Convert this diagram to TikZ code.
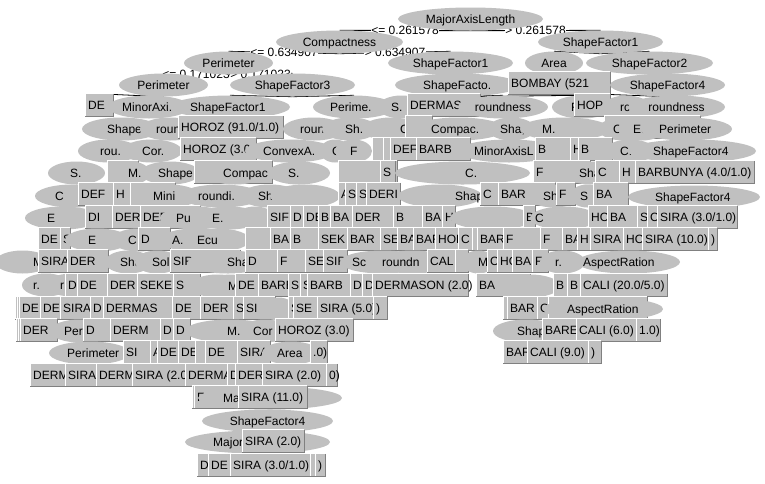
\documentclass[tikz,border=0pt]{standalone}
\usepackage{fontspec}
\setmainfont{Liberation Sans}
\usetikzlibrary{shapes.geometric}
\definecolor{ng}{RGB}{192,192,192}
\definecolor{nd}{RGB}{128,128,128}
\pgfdeclarelayer{back}
\pgfdeclarelayer{bg}
\pgfsetlayers{back,bg,main}
\newcounter{nd}
\tikzset{
  boxnode/.style={rectangle, fill=ng, draw=none, inner sep=0pt, minimum height=22pt},
  elnode/.style={ellipse, fill=ng, draw=none, inner sep=0pt, minimum height=23pt},
  hiline/.style={white, line width=1pt},
  loline/.style={nd, line width=1pt},
  txt/.style={inner sep=0pt, font=\fontsize{12}{14}\selectfont, text=black},
  conn/.style={black, line width=0.8pt},
  lbl/.style={fill=white, inner sep=0.5pt, font=\fontsize{12}{14}\selectfont}
}
\newcommand\nbx[4]{%
  \stepcounter{nd}\edef\nm{n\arabic{nd}}\edef\tm{t\arabic{nd}}%
  \node[boxnode, minimum width={((#2)-(#1))*1pt}, anchor=west] (\nm) at (#1,#3) {};
  \draw[hiline] (\nm.south west) |- (\nm.north east);
  \draw[loline] (\nm.north east) |- (\nm.south west);
  \node[txt, anchor=base west] (\tm) at (#1+3,#3+4.3) {#4};}
\newcommand\nel[5]{%
  \stepcounter{nd}\edef\nm{n\arabic{nd}}\edef\tm{t\arabic{nd}}%
  \pgfmathsetmacro\cx{((#1)+(#2))/2}%
  \node[elnode, minimum width={((#2)-(#1))*1pt}] (\nm) at (\cx,#3) {};
  \node[txt, anchor=base west] (\tm) at (#4,#3+4.3) {#5};}
\newcommand\nelc[4]{%
  \stepcounter{nd}\edef\nm{n\arabic{nd}}\edef\tm{t\arabic{nd}}%
  \pgfmathsetmacro\cx{((#1)+(#2))/2}%
  \node[elnode, minimum width={((#2)-(#1))*1pt}] (\nm) at (\cx,#3) {};
  \node[txt, anchor=base] (\tm) at (\cx,#3+4.3) {#4};}
\begin{document}
\begin{tikzpicture}[x=1pt,y=-1pt]
\begin{pgfonlayer}{back}
\fill[white] (0,0) rectangle (765,483);
\end{pgfonlayer}
\useasboundingbox (0,0) rectangle (765,483);
% R1
\nelc{398}{543}{19}{MajorAxisLength}
% R2
\nelc{276}{403}{42}{Compactness}
\nelc{538}{663}{42}{ShapeFactor1}
% R3
\nelc{184}{273}{63}{Perimeter}
\nelc{388}{513}{63}{ShapeFactor1}
\nelc{525}{583}{63}{Area}
\nelc{586}{713}{63}{ShapeFactor2}
% R4
\nelc{119}{208}{85}{Perimeter}
\nelc{230}{355}{85}{ShapeFactor3}
\nel{395}{520}{85}{423}{ShapeFacto.}
\nbx{508}{610}{83}{BOMBAY (521}
\nelc{610}{725}{85}{ShapeFactor4}
% R5
\nbx{85}{113}{105}{DE}
\nel{108}{190}{107}{122}{MinorAxi.}
\nel{170}{290}{107}{190}{ShapeFactor1}
\nel{313}{395}{107}{330}{Perime.}
\nel{378}{425}{107}{391}{S.}
\nbx{407}{480}{105}{DERMAS}
\nelc{458}{548}{107}{roundness}
\nel{552}{612}{107}{571}{F}
\nbx{574}{610}{105}{HOP}
\nel{603}{650}{107}{620}{rc}
\nelc{628}{725}{107}{roundness}
% R6
\nel{82}{160}{129}{107}{Shape}
\nel{140}{200}{129}{156}{roun}
\nbx{178}{283}{127}{HOROZ (91.0/1.0)}
\nel{283}{345}{129}{300}{roun.}
\nel{322}{378}{129}{345}{Sh.}
\nel{362}{420}{129}{400}{C}
\nbx{405}{432}{127}{}
\nel{412}{505}{129}{431}{Compac.}
\nel{488}{535}{129}{500}{Sha,}
\nel{520}{610}{129}{542}{M.}
\nbx{604}{700}{127}{}
\nel{598}{650}{129}{613}{C}
\nel{618}{665}{129}{633}{Ec}
\nel{640}{732}{129}{659}{Perimeter}
% R7
\nel{78}{140}{151}{100}{rou.}
\nel{122}{182}{151}{142}{Cor.}
\nbx{180}{256}{149}{HOROZ (3.0}
\nel{245}{335}{151}{263}{ConvexA.}
\nel{320}{350}{151}{332}{C}
\nel{335}{372}{151}{350}{F}
\nbx{372}{383}{149}{}
\nbx{383}{390}{149}{}
\nbx{390}{416}{149}{DEF}
\nbx{416}{470}{149}{BARB}
\nel{458}{560}{151}{474}{MinorAxisL}
\nbx{535}{570}{149}{B}
\nbx{570}{578}{149}{H}
\nbx{578}{612}{149}{B}
\nel{605}{655}{151}{620}{C.}
\nel{628}{756}{151}{653}{ShapeFactor4}
% R8
\nel{48}{105}{173}{70}{S.}
\nbx{107}{138}{172}{}
\nel{112}{150}{173}{128}{M.}
\nel{140}{200}{173}{158}{Shape}
\nbx{194}{272}{172}{}
\nel{205}{265}{173}{223}{Compac}
\nel{268}{330}{173}{288}{S.}
\nbx{338}{397}{172}{}
\nbx{380}{395}{172}{S}
\nel{395}{530}{173}{465}{C.}
\nbx{533}{590}{172}{F}
\nel{565}{615}{173}{579}{Sha}
\nbx{595}{619}{172}{C}
\nbx{619}{635}{172}{H}
\nbx{635}{754}{172}{BARBUNYA (4.0/1.0)}
% R9
\nel{35}{110}{196}{55}{C}
\nbx{78}{113}{194}{DEF}
\nbx{113}{130}{194}{H}
\nbx{130}{175}{194}{}
\nel{138}{200}{196}{153}{Mini}
\nel{180}{262}{196}{198}{roundi.}
\nel{240}{300}{196}{258}{Sh.}
\nel{270}{340}{196}{300}{}
\nbx{338}{345}{194}{A}
\nbx{345}{356}{194}{S}
\nbx{356}{366}{194}{SI}
\nbx{366}{400}{194}{DERI}
\nel{398}{482}{196}{455}{Shap}
\nbx{480}{498}{194}{C}
\nbx{498}{555}{194}{BAR}
\nel{528}{580}{196}{543}{Sh}
\nbx{556}{575}{194}{F}
\nel{570}{605}{196}{580}{S}
\nbx{593}{628}{194}{BA}
\nel{628}{760}{197}{655}{ShapeFactor4}
% R10
\nel{25}{100}{218}{47}{E}
\nbx{85}{112}{217}{DI}
\nbx{112}{140}{217}{DER}
\nbx{140}{200}{217}{DEF}
\nel{160}{230}{218}{176}{Pu}
\nel{195}{262}{218}{212}{E.}
\nel{235}{275}{218}{255}{}
\nbx{267}{290}{217}{SIF}
\nbx{290}{303}{217}{D}
\nbx{303}{318}{217}{DE}
\nbx{318}{330}{217}{B}
\nbx{330}{352}{217}{BA}
\nbx{352}{393}{217}{DER}
\nbx{393}{422}{217}{B}
\nbx{422}{442}{217}{BA}
\nbx{442}{455}{217}{H}
\nel{450}{535}{218}{480}{}
\nbx{523}{535}{217}{B}
\nel{530}{598}{218}{535}{C}
\nbx{588}{607}{217}{HO}
\nbx{607}{637}{217}{BA}
\nbx{637}{647}{217}{S}
\nbx{647}{657}{217}{C}
\nbx{657}{737}{217}{SIRA (3.0/1.0)}
% R11
\nbx{38}{60}{239}{DE}
\nbx{60}{70}{239}{S}
\nel{65}{130}{240}{88}{E}
\nel{112}{165}{240}{128}{C}
\nbx{138}{170}{239}{D}
\nel{160}{230}{240}{172}{A.}
\nel{185}{250}{240}{197}{Ecu}
\nbx{245}{270}{239}{}
\nbx{270}{290}{239}{BA}
\nbx{290}{318}{239}{B}
\nbx{318}{347}{239}{SEK}
\nbx{347}{380}{239}{BAR}
\nbx{380}{397}{239}{SE}
\nbx{397}{413}{239}{BA}
\nbx{413}{435}{239}{BAR}
\nbx{435}{458}{239}{HOR}
\nbx{458}{472}{239}{C}
\nbx{472}{477}{239}{}
\nbx{477}{503}{239}{BAR}
\nbx{503}{540}{239}{F}
\nel{515}{560}{240}{530}{}
\nbx{540}{562}{239}{F}
\nbx{562}{577}{239}{BA}
\nbx{577}{590}{239}{H}
\nbx{590}{623}{239}{SIRA}
\nbx{623}{642}{239}{HO}
\nbx{642}{708}{239}{SIRA (10.0)}
\nbx{708}{717}{239}{)}
% R12
\nel{-5}{50}{262}{33}{M}
\nbx{38}{67}{261}{SIRA}
\nbx{67}{108}{261}{DER}
\nel{105}{152}{262}{120}{Sha}
\nel{135}{180}{262}{152}{Sol}
\nbx{170}{240}{261}{SIR}
\nel{188}{268}{262}{227}{Sha}
\nbx{245}{277}{261}{D}
\nbx{277}{305}{261}{F}
\nbx{305}{323}{261}{SE}
\nbx{323}{347}{261}{SIR}
\nel{340}{425}{262}{352}{Sc}
\nel{375}{450}{262}{382}{roundn}
\nbx{427}{455}{261}{CAL}
\nbx{455}{468}{261}{}
\nel{462}{495}{262}{478}{M}
\nbx{487}{497}{261}{C}
\nbx{497}{512}{261}{HO}
\nbx{512}{532}{261}{BAR}
\nbx{532}{548}{261}{F}
\nel{540}{585}{262}{555}{r.}
\nel{577}{680}{262}{583}{AspectRation}
% R13
\nel{22}{70}{285}{33}{r.}
\nel{45}{100}{285}{60}{r}
\nbx{65}{77}{285}{D}
\nbx{77}{107}{285}{DE}
\nbx{107}{137}{285}{DER}
\nbx{137}{173}{285}{SEKE}
\nbx{173}{200}{285}{S}
\nel{190}{245}{286}{210}{}
\nel{210}{250}{286}{228}{M}
\nbx{235}{258}{285}{DE}
\nbx{258}{288}{285}{BARE}
\nbx{288}{300}{285}{SI}
\nbx{300}{307}{285}{S}
\nbx{307}{350}{285}{BARB}
\nbx{350}{362}{285}{D}
\nbx{362}{372}{285}{D}
\nbx{372}{468}{285}{DERMASON (2.0)}
\nbx{476}{530}{285}{BA}
\nel{500}{560}{286}{510}{}
\nbx{553}{567}{285}{B}
\nbx{567}{580}{285}{B}
\nbx{580}{667}{285}{CALI (20.0/5.0)}
% R14
\nbx{15}{17}{308}{}
\nbx{17}{19}{308}{}
\nbx{19}{40}{308}{DE}
\nbx{40}{60}{308}{DE}
\nbx{60}{90}{308}{SIRA}
\nbx{90}{103}{308}{D}
\nbx{103}{172}{308}{DERMAS}
\nbx{172}{200}{308}{DE}
\nbx{200}{233}{308}{DER}
\nbx{233}{243}{308}{S}
\nbx{243}{275}{308}{SI}
\nel{262}{295}{309}{280}{}
\nbx{288}{293}{308}{S}
\nbx{293}{317}{308}{SE}
\nbx{317}{373}{308}{SIRA (5.0)}
\nbx{373}{387}{308}{)}
\nbx{503}{507}{308}{}
\nbx{507}{537}{308}{BAR}
\nbx{537}{548}{308}{C}
\nbx{548}{647}{308}{}
\nel{543}{663}{309}{567}{AspectRation}
% R15
\nbx{16}{18}{330}{}
\nbx{18}{20}{330}{}
\nbx{20}{57}{330}{DER}
\nel{50}{110}{331}{64}{Per}
\nbx{83}{110}{330}{D}
\nbx{110}{160}{330}{DERM}
\nbx{160}{173}{330}{D}
\nbx{173}{190}{330}{D}
\nel{185}{275}{331}{227}{M.}
\nel{240}{290}{331}{253}{Cor}
\nbx{275}{353}{330}{HOROZ (3.0)}
\nel{493}{560}{331}{517}{Shap}
\nbx{542}{576}{330}{BARE}
\nbx{576}{636}{330}{CALI (6.0)}
\nbx{636}{660}{330}{1.0)}
% R16
\nel{49}{130}{353}{67}{Perimeter}
\nbx{123}{150}{352}{SI}
\nbx{150}{157}{352}{A}
\nbx{157}{178}{352}{DE}
\nbx{178}{195}{352}{DE}
\nbx{195}{205}{352}{}
\nbx{205}{237}{352}{DE}
\nbx{237}{270}{352}{SIRA}
\nel{262}{320}{353}{277}{Area}
\nbx{310}{327}{352}{.0)}
\nbx{503}{527}{352}{BAR}
\nbx{527}{588}{352}{CALI (9.0)}
\nbx{588}{601}{352}{)}
% R17
\nbx{30}{65}{375}{DERM}
\nbx{65}{96}{375}{SIRA}
\nbx{96}{132}{375}{DERM}
\nbx{132}{185}{375}{SIRA (2.0}
\nbx{185}{227}{375}{DERMA}
\nbx{227}{235}{375}{D}
\nbx{235}{262}{375}{DER}
\nbx{262}{326}{375}{SIRA (2.0)}
\nbx{326}{337}{375}{0)}
% R18
\nbx{192}{197}{397}{}
\nbx{194}{240}{397}{F}
\nel{198}{342}{398}{223}{Ma}
\nbx{238}{307}{397}{SIRA (11.0)}
% R19
\nelc{202}{333}{421}{ShapeFactor4}
% R20
\nel{185}{330}{442}{213}{Major}
\nbx{242}{304}{441}{SIRA (2.0)}
% R21
\nbx{197}{208}{465}{DE}
\nbx{208}{230}{465}{DE}
\nbx{230}{310}{465}{SIRA (3.0/1.0)}
\nbx{310}{315}{465}{}
\nbx{315}{325}{465}{)}
% connectors and their labels, behind the nodes
\begin{pgfonlayer}{bg}
\draw[conn] (n1.south) -- (n2.north) node[lbl, midway] (l1) {<= 0.261578};
\draw[conn] (n1.south) -- (n3.north) node[lbl, midway] (l2) {> 0.261578};
\draw[conn] (n2.south) -- (n4.north) node[lbl, midway] (l3) {<= 0.634907};
\draw[conn] (n2.south) -- (n5.north) node[lbl, midway] (l4) {> 0.634907};
\draw[conn] (n3.south) -- (n6.north);
\draw[conn] (n3.south) -- (n7.north);
\draw[conn] (n4.south) -- (n8.north) node[lbl, midway] (l5) {<= 0.171023};
\draw[conn] (n4.south) -- (n9.north) node[lbl, midway] (l6) {> 0.171023};
\draw[conn] (n5.south) -- (n10.north);
\draw[conn] (n6.south) -- (n11.north);
\draw[conn] (n7.south) -- (n12.north);
\draw[conn] (n8.south) -- (n13.north);
\draw[conn] (n8.south) -- (n14.north);
\draw[conn] (n9.south) -- (n15.north);
\draw[conn] (n9.south) -- (n16.north);
\draw[conn] (n10.south) -- (n19.north);
\draw[conn] (n10.south) -- (n20.north);
\draw[conn] (n12.south) -- (n21.north);
\draw[conn] (n12.south) -- (n23.north);
\end{pgfonlayer}
\end{tikzpicture}
\end{document}
